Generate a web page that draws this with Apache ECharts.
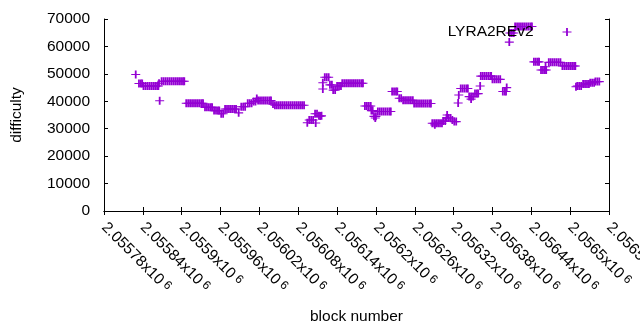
<!DOCTYPE html>
<html><head><meta charset="utf-8">
<script src="https://cdn.jsdelivr.net/npm/echarts@6/dist/echarts.min.js"></script>
<style>html,body{margin:0;padding:0;background:#fff}#c{width:640px;height:330px}</style>
</head><body><div id="c"></div>
<script>
const seriesName = 'LYRA2REv2';
const xAxisTitle = 'block number';
const yAxisTitle = 'difficulty';
const xMin = 2055780, xMax = 2056560, xStep = 60;
const yMin = 0, yMax = 70000, yStep = 10000;

const segA = [
 [2055829,49800],
 [2055834,46500],[2055837,46500],[2055839,46500],
 [2055841,45600],[2055844,45600],[2055847,45600],[2055850,45600],[2055853,45600],[2055856,45600],[2055859,45600],[2055862,45600],[2055864,45600],
 [2055865,46600],[2055866,40200],
 [2055869,47300],[2055872,47300],[2055875,47300],[2055878,47300],[2055881,47300],[2055884,47300],[2055887,47300],[2055890,47300],[2055893,47300],[2055896,47300],[2055899,47300],[2055902,47300],[2055904,47300],
 [2055907,39300],[2055910,39300],[2055913,39300],[2055916,39300],[2055919,39300],[2055922,39300],[2055925,39300],[2055928,39300],[2055931,39300],[2055933,39300]
];
const segB = [
 [2055936,37800],[2055939,37800],[2055942,37800],[2055945,37800],[2055947,37800],
 [2055950,36600],[2055953,36600],[2055956,36600],[2055958,36600],
 [2055961,35500],[2055964,35500],
 [2055967,37200],[2055970,37200],[2055973,37200],[2055976,37200],[2055979,37200],[2055982,37200],[2055984,37200],
 [2055988,35800],
 [2055992,38000],[2055995,38000],[2055998,38000],
 [2056002,39300],[2056005,39300],[2056008,39300],
 [2056011,39900],[2056014,39900],[2056016,41000],
 [2056018,40300],[2056021,40300],[2056024,40300],[2056027,40300],[2056030,40300],[2056033,40300],[2056036,40300],[2056038,40300],
 [2056041,39000],
 [2056044,38600],[2056047,38600],[2056050,38600],[2056053,38600],[2056056,38600],[2056059,38600],[2056062,38600],[2056065,38600],
 [2056068,38600],[2056071,38600],[2056074,38600],[2056077,38600],[2056080,38600],[2056083,38600],[2056086,38600],[2056089,38600]
];
const segC = [
 [2056094,32200],[2056097,33200],[2056100,33200],[2056103,33200],[2056106,35500],[2056107,32100],[2056109,35500],
 [2056112,34700],[2056114,34600],[2056116,34700],
 [2056118,46800],[2056118,44500],
 [2056121,48800],[2056124,48800],[2056127,48800],
 [2056129,46000],[2056132,46000],
 [2056134,44100],[2056137,44100],
 [2056140,45600],[2056143,45600],[2056146,45600],
 [2056148,46600],[2056151,46600],[2056154,46600],[2056157,46600],[2056160,46600],[2056163,46600],[2056166,46600],[2056169,46600],
 [2056172,46600],[2056175,46600],[2056178,46600],[2056180,46600]
];
const segD = [
 [2056183,38300],[2056186,38300],[2056189,38300],[2056192,38300],
 [2056193,36600],[2056195,36600],
 [2056197,34500],[2056199,33900],[2056200,34500],
 [2056203,36300],[2056206,36300],[2056209,36300],[2056212,36300],[2056215,36300],[2056218,36300],[2056221,36300],[2056223,36300],
 [2056225,43600],[2056228,43600],[2056231,43600],[2056233,43600],
 [2056236,41100],[2056239,41100],
 [2056242,40400],[2056245,40400],[2056248,40400],[2056251,40400],[2056254,40400],[2056257,40400],
 [2056259,39200],[2056262,39200],[2056265,39200],[2056268,39200],[2056271,39200],[2056274,39200],[2056277,39200],[2056280,39200],[2056283,39200],[2056285,39200]
];
const segE = [
 [2056287,32000],[2056290,32000],[2056293,32000],[2056296,32000],[2056299,32000],[2056302,32000],
 [2056291,31400],
 [2056304,32800],[2056307,32800],
 [2056309,33900],[2056310,35000],[2056312,33900],[2056315,33900],
 [2056318,33200],
 [2056321,32600],[2056324,32600],
 [2056327,39400],[2056328,42300],
 [2056331,44700],[2056334,44700],[2056337,44700],[2056340,44700],[2056342,44700],
 [2056344,41700],[2056347,41700],[2056347,40800],[2056350,41700],
 [2056353,42800],[2056356,42800],[2056358,42800],
 [2056361,45600],
 [2056362,49200],[2056365,49200],[2056368,49200],[2056371,49200],[2056374,49200],[2056377,49200],[2056378,49200],
 [2056380,48000],[2056383,48000],[2056386,48000],[2056389,48000],[2056392,48000],
 [2056396,43600],[2056399,43600],[2056401,43600],
 [2056402,45000],
 [2056406,61600],
 [2056407,64900],[2056410,64900],[2056413,64900],
 [2056415,67300],[2056418,67300],[2056421,67300],[2056424,67300],[2056427,67300],[2056430,67300],[2056433,67300],[2056436,67300],[2056439,67300],[2056441,67300]
];
const segF = [
 [2056444,54400],[2056447,54400],[2056450,54400],[2056452,54400],
 [2056455,51400],[2056458,51400],[2056461,51400],[2056463,51400],
 [2056462,52600],
 [2056467,54200],[2056470,54200],[2056473,54200],[2056476,54200],[2056479,54200],[2056482,54200],[2056485,54200],
 [2056488,52900],[2056491,52900],[2056494,52900],[2056497,52900],[2056500,52900],[2056503,52900],[2056506,52900],[2056508,52900],
 [2056509,45300],
 [2056511,45600],[2056514,45600],[2056517,45600],
 [2056520,46300],[2056523,46300],[2056526,46300],[2056529,46300],
 [2056531,46800],[2056534,46800],[2056537,46800],
 [2056539,47200],[2056542,47200],[2056545,47200]
];

const points = [].concat(segA, segB, segC, segD, segE, segF);
const plusSymbol = 'path://M0,3.5H9V4.6H0Z M3.6,0H5.4V8H3.6Z';
const FONT = "'Liberation Sans', Arial, sans-serif";
const PURPLE = '#9400D3';

const chart = echarts.init(document.getElementById('c'), null, {renderer: 'canvas'});
const baseAxis = {
  axisLine: {show: true, lineStyle: {color: '#000', width: 1}},
  axisTick: {show: true, inside: true, length: 4, lineStyle: {color: '#000'}},
  splitLine: {show: false}
};
chart.setOption({
  animation: false,
  backgroundColor: '#fff',
  textStyle: {fontFamily: FONT},
  grid: {left: 104, right: 31, top: 19, bottom: 119, containLabel: false, outerBoundsMode: 'none'},
  legend: {
    data: [seriesName], right: 68.5, top: 24, align: 'right', padding: 0,
    icon: plusSymbol, itemWidth: 9, itemHeight: 8,
    textStyle: {fontFamily: FONT, fontSize: 15.5, color: '#000', padding: [0, 24, 0, 0]}
  },
  xAxis: [
    Object.assign({}, baseAxis, {
      type: 'value', min: xMin, max: xMax, interval: xStep, position: 'bottom',
      name: xAxisTitle, nameLocation: 'middle', nameGap: 98,
      nameTextStyle: {fontFamily: FONT, fontSize: 15.5, color: '#000'},
      axisLabel: {
        rotate: -45, margin: 14, showMaxLabel: true, showMinLabel: true, hideOverlap: false,
        formatter: v => '{m|' + parseFloat((v / 1e6).toFixed(5)).toString() + 'x10}{e| 6}',
        rich: {
          m: {fontFamily: FONT, fontSize: 15.5, color: '#000'},
          e: {fontFamily: FONT, fontSize: 12, color: '#000', verticalAlign: 'top'}
        }
      }
    }),
    Object.assign({}, baseAxis, {
      type: 'value', min: xMin, max: xMax, interval: xStep, position: 'top',
      axisLabel: {show: false}
    })
  ],
  yAxis: [
    Object.assign({}, baseAxis, {
      type: 'value', min: yMin, max: yMax, interval: yStep, position: 'left',
      name: yAxisTitle, nameLocation: 'middle', nameGap: 79,
      nameTextStyle: {fontFamily: FONT, fontSize: 15.5, color: '#000'},
      axisLabel: {margin: 14, fontFamily: FONT, fontSize: 15.5, color: '#000', formatter: v => String(v)}
    }),
    Object.assign({}, baseAxis, {
      type: 'value', min: yMin, max: yMax, interval: yStep, position: 'right',
      axisLabel: {show: false}
    })
  ],
  series: [{
    name: seriesName, type: 'scatter', data: points,
    symbol: plusSymbol, symbolSize: [9, 8],
    itemStyle: {color: PURPLE, opacity: 1},
    emphasis: {disabled: true}
  }]
});
</script>
</body></html>
